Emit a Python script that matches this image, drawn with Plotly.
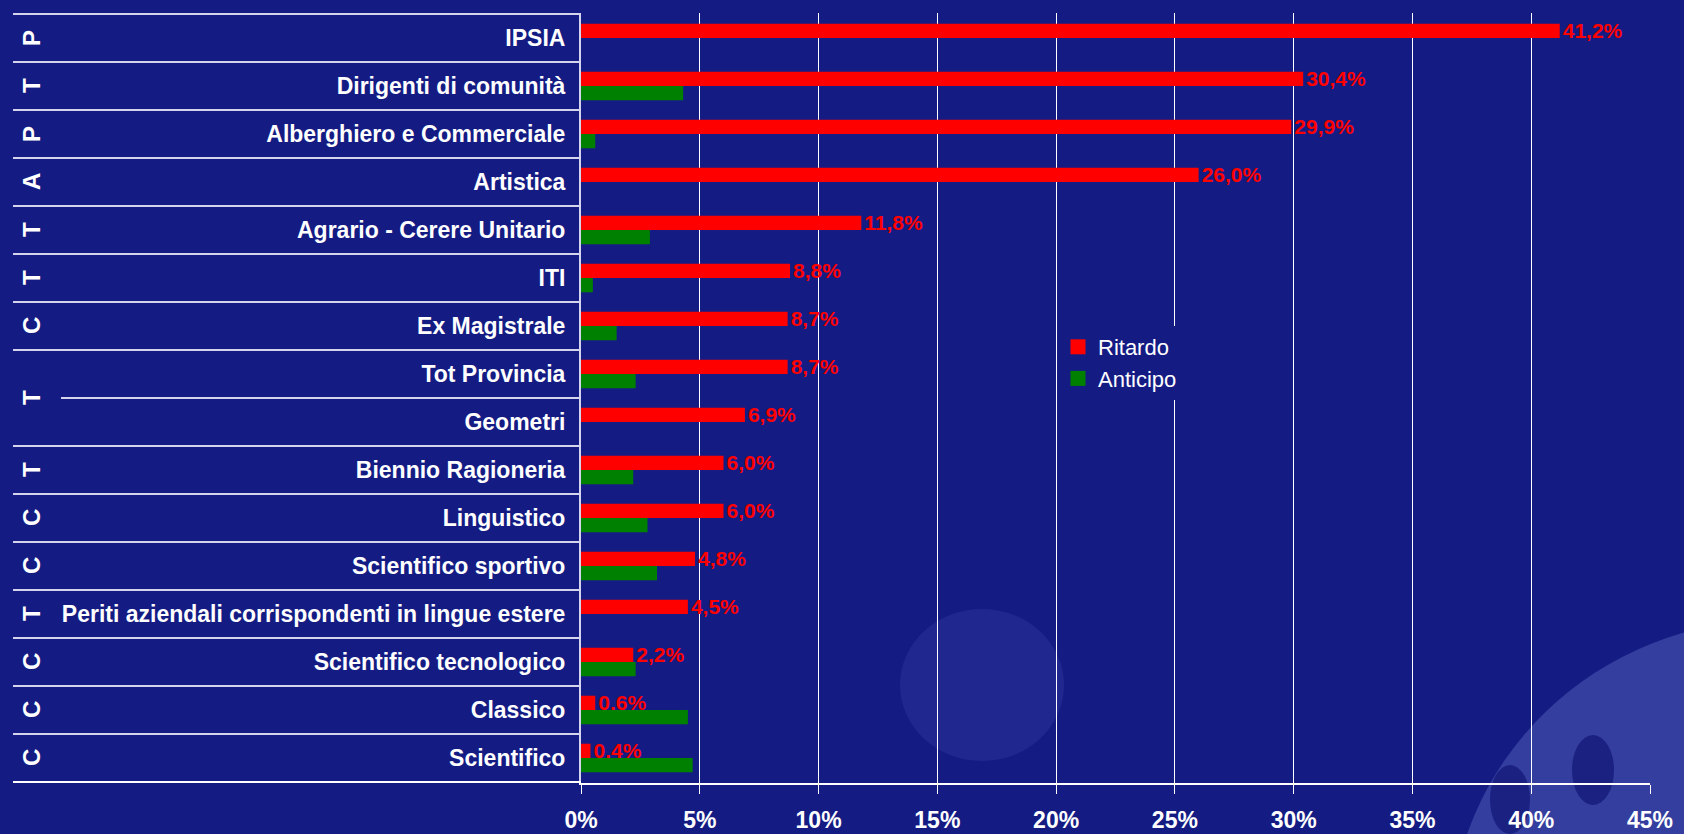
import plotly.graph_objects as go

# ---------------- data ----------------
categories = [
    "IPSIA", "Dirigenti di comunità", "Alberghiero e Commerciale", "Artistica",
    "Agrario - Cerere Unitario", "ITI", "Ex Magistrale", "Tot Provincia",
    "Geometri", "Biennio Ragioneria", "Linguistico", "Scientifico sportivo",
    "Periti aziendali corrispondenti in lingue estere", "Scientifico tecnologico",
    "Classico", "Scientifico",
]
ritardo = [41.2, 30.4, 29.9, 26.0, 11.8, 8.8, 8.7, 8.7, 6.9, 6.0, 6.0, 4.8, 4.5, 2.2, 0.6, 0.4]
anticipo = [0.0, 4.3, 0.6, 0.0, 2.9, 0.5, 1.5, 2.3, 0.0, 2.2, 2.8, 3.2, 0.0, 2.3, 4.5, 4.7]
# group letters: (first row, last row, letter)
group_spans = [(0, 0, "P"), (1, 1, "T"), (2, 2, "P"), (3, 3, "A"), (4, 4, "T"),
               (5, 5, "T"), (6, 6, "C"), (7, 8, "T"), (9, 9, "T"), (10, 10, "C"),
               (11, 11, "C"), (12, 12, "T"), (13, 13, "C"), (14, 14, "C"), (15, 15, "C")]
x_ticks = [0, 5, 10, 15, 20, 25, 30, 35, 40, 45]
series_names = ["Ritardo", "Anticipo"]
series_colors = ["#ff0000", "#008000"]

# ---------------- style ----------------
W, H = 1684, 834
PL, PR, PT, PB = 581, 1650, 13, 783
BG = "#141c84"
LINE = "#d4d4ee"
FONT = "Liberation Sans, Arial, sans-serif"


def px_x(x):
    return (x - PL) / (PR - PL)


def px_y(y):
    return 1 - (y - PT) / (PB - PT)


def fmt(v):
    return f"{v:.1f}".replace(".", ",") + "%"


fig = go.Figure()
fig.add_trace(go.Bar(
    name=series_names[0], y=categories, x=ritardo, orientation="h",
    marker=dict(color=series_colors[0], line=dict(width=0)),
    text=[fmt(v) for v in ritardo], textposition="outside",
    textfont=dict(family=FONT, size=21, color=series_colors[0], weight="bold"),
    constraintext="none", cliponaxis=False, hoverinfo="skip", showlegend=False,
))
fig.add_trace(go.Bar(
    name=series_names[1], y=categories, x=anticipo, orientation="h",
    marker=dict(color=series_colors[1], line=dict(width=0)), hoverinfo="skip",
    showlegend=False,
))
# legend entries (square swatches)
for name, col in zip(series_names, series_colors):
    fig.add_trace(go.Scatter(
        name=name, x=[None], y=[None], mode="markers",
        marker=dict(symbol="square", size=15, color=col, line=dict(width=0)),
        showlegend=True, hoverinfo="skip",
    ))

shapes = []
# decorative background blobs
shapes.append(dict(type="circle", xref="paper", yref="paper", layer="below",
                   x0=px_x(900), x1=px_x(1064), y0=px_y(609), y1=px_y(761),
                   fillcolor="#20288f", line=dict(width=0)))
shapes.append(dict(type="circle", xref="paper", yref="paper", layer="below",
                   x0=px_x(1450), x1=px_x(2100), y0=px_y(620), y1=px_y(1250),
                   fillcolor="#3f4aa8", opacity=0.75, line=dict(width=0)))
shapes.append(dict(type="circle", xref="paper", yref="paper", layer="below",
                   x0=px_x(1490), x1=px_x(1530), y0=px_y(765), y1=px_y(834),
                   fillcolor="#1a2180", line=dict(width=0)))
shapes.append(dict(type="circle", xref="paper", yref="paper", layer="below",
                   x0=px_x(1572), x1=px_x(1614), y0=px_y(735), y1=px_y(805),
                   fillcolor="#1a2180", line=dict(width=0)))

# table row separators
n = len(categories)
inner = set()
for a, b, _ in group_spans:
    for k in range(a, b):
        inner.add(k)
for k in range(-1, n):
    x0 = 61 if k in inner else 13
    color = "#ffffff" if k == n - 1 else LINE
    shapes.append(dict(type="line", xref="paper", yref="y",
                       x0=px_x(x0), x1=0, y0=k + 0.5, y1=k + 0.5,
                       line=dict(color=color, width=2)))

annotations = []
for a, b, letter in group_spans:
    annotations.append(dict(
        text=letter, xref="paper", yref="y", x=px_x(31), y=(a + b) / 2,
        xanchor="center", yanchor="middle", textangle=-90, showarrow=False,
        font=dict(family=FONT, size=24, color="white", weight="bold"),
    ))

fig.update_layout(
    width=W, height=H,
    margin=dict(l=PL, r=W - PR, t=PT, b=H - PB, autoexpand=False),
    paper_bgcolor=BG, plot_bgcolor=BG,
    barmode="group", bargap=0.405, bargroupgap=0,
    showlegend=True,
    legend=dict(x=px_x(1058), y=px_y(326), xanchor="left", yanchor="top",
                bgcolor=BG, borderwidth=0, tracegroupgap=0, itemsizing="trace",
                font=dict(family=FONT, size=22, color="white")),
    shapes=shapes, annotations=annotations,
    xaxis=dict(range=[0, 45], tickvals=x_ticks, ticktext=[f"{t}%" for t in x_ticks],
               showgrid=True, gridcolor="#ffffff", gridwidth=1, zeroline=False,
               showline=True, linecolor="#ffffff", linewidth=2,
               ticks="outside", ticklen=9, tickcolor="#ffffff", tickwidth=1,
               ticklabelstandoff=6, automargin=False,
               tickfont=dict(family=FONT, size=23, color="white", weight="bold")),
    yaxis=dict(categoryorder="array", categoryarray=categories, autorange="reversed",
               showgrid=False, zeroline=False, showline=True, linecolor=LINE, linewidth=2,
               ticks="", ticklabelstandoff=9, automargin=False,
               tickfont=dict(family=FONT, size=23, color="white", weight="bold")),
)

fig.write_html(
    "out.html",
    config={"displayModeBar": False},
    post_script="document.body.style.margin='0';document.body.style.background='" + BG + "';",
)
